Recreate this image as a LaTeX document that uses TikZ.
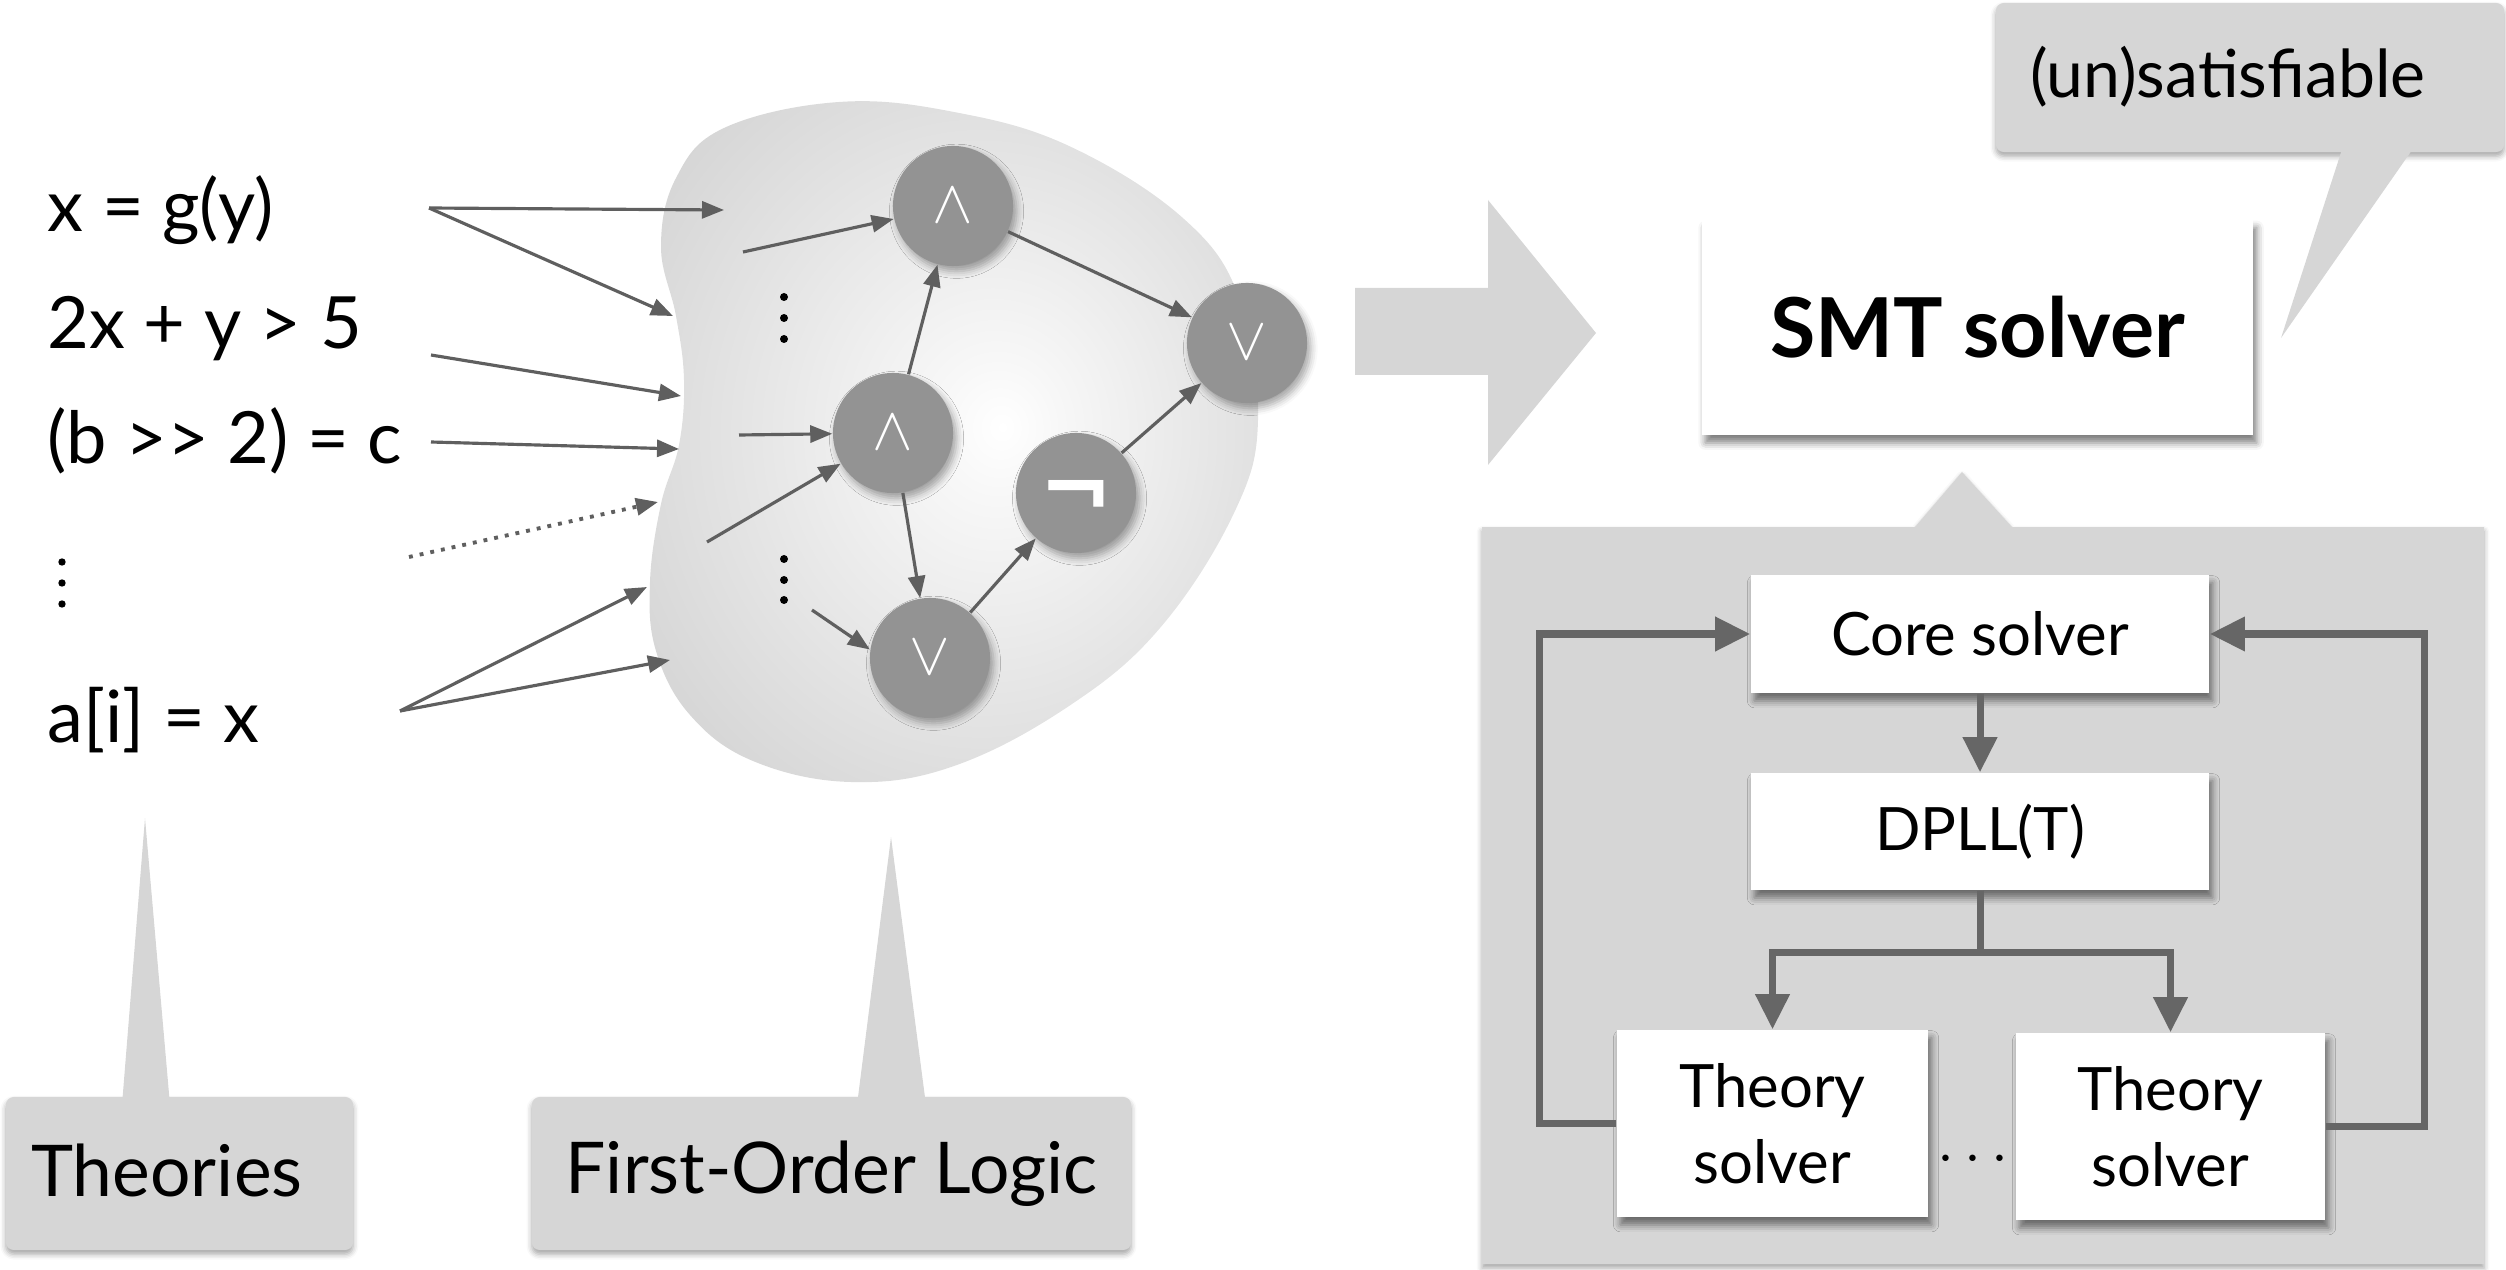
\documentclass[tikz,border=0pt]{standalone}
\usepackage{fontspec}
\setmainfont{Lato}[Ligatures=TeXOff]
\newfontfamily\djvfont{DejaVu Sans}
\usetikzlibrary{arrows.meta,shadows.blur}
\definecolor{calloutgray}{HTML}{D6D6D6}
\definecolor{blobgray}{HTML}{D0D0D0}
\definecolor{nodegray}{HTML}{939393}
\definecolor{arrowgray}{HTML}{5F5F5F}
\definecolor{loopgray}{HTML}{666666}
\pgfdeclareradialshading{blobshade}{\pgfpoint{4bp}{1bp}}{color(0bp)=(white); color(5bp)=(white!97!black); color(36bp)=(blobgray); color(50bp)=(blobgray)}
\tikzset{
  arr/.style={draw=arrowgray, line width=0.9pt, -{Triangle[length=0.22cm,width=0.17cm]}},
  looparr/.style={draw=loopgray, line width=2pt, -{Triangle[length=0.35cm,width=0.33cm]}},
  opnode/.style={circle, fill=nodegray, minimum size=1.2cm, inner sep=0pt, text=white,
    font=\fontsize{17}{17}\selectfont,
    blur shadow={shadow xshift=1pt, shadow yshift=-1.5pt, shadow blur radius=2pt, shadow opacity=35}},
  whitebox/.style={rectangle, fill=white, inner sep=0pt,
    blur shadow={shadow xshift=1pt, shadow yshift=-2.2pt, shadow blur radius=2pt, shadow opacity=50}},
  calloutbox/.style={rectangle, rounded corners=0.08cm, fill=calloutgray, inner sep=0pt,
    blur shadow={shadow xshift=0pt, shadow yshift=-1.2pt, shadow blur radius=1.5pt, shadow opacity=35}},
  formula/.style={anchor=base west, inner sep=0pt, font=\fontsize{20.5}{24}\selectfont},
  paneltxt/.style={font=\fontsize{17}{21.6}\selectfont, align=center},
  labeltxt/.style={font=\fontsize{20.3}{24}\selectfont}
}
\begin{document}
\begin{tikzpicture}[x=0.01cm,y=-0.01cm]
\useasboundingbox (0,0) rectangle (2506,1270);

% ---------- bottom-right panel ----------
\path[fill=calloutgray, blur shadow={shadow xshift=0pt, shadow yshift=-1.2pt, shadow blur radius=1.5pt, shadow opacity=35}]
  (1482,527) -- (1915,527) -- (1962,472) -- (2012,527) -- (2484,527) -- (2484,1264) -- (1482,1264) -- cycle;

% ---------- blob ----------
\shade[shading=blobshade] plot[smooth cycle, tension=0.65] coordinates {
  (839,102) (954,112) (1069,146) (1184,219) (1240,300) (1258,420) (1234,513)
  (1160,628) (1069,706) (954,766) (851,782) (753,761) (690,715) (656,651)
  (650,582) (661,504) (679,445) (684,380) (676,316) (661,247) (676,178) (724,128)};

% ---------- formulas ----------
\node[formula] (f1) at (47,232) {x = g(y)};
\node[formula] (f2) at (47,349) {2x + y > 5};
\node[formula] (f3) at (47,463) {(b >> 2) = c};
\node[formula] (f5) at (47,742) {a[i] = x};
\foreach \yy in {562,583,604} \fill (62,\yy) circle (0.037cm);

% ---------- free ends ----------
\coordinate (s1) at (429,208);
\coordinate (e1a) at (724,210);
\coordinate (e1b) at (673,316);
\coordinate (s2) at (431,355);
\coordinate (e2) at (681,396);
\coordinate (s3) at (431,442);
\coordinate (e3) at (679,449);
\coordinate (s4) at (409,557);
\coordinate (e4) at (658,502);
\coordinate (s5) at (400,711);
\coordinate (e5a) at (647,587);
\coordinate (e5b) at (670,660);
\coordinate (i1) at (743,252);
\coordinate (i2) at (739,435);
\coordinate (i3) at (707,542);
\coordinate (i4) at (812,610);

% ---------- operator nodes ----------
\node[opnode] (and1) at (953,206) {$\wedge$};
\node[opnode] (orR) at (1247,343) {$\vee$};
\node[opnode] (and2) at (893,433) {$\wedge$};
\node[opnode, font=\djvfont\bfseries\fontsize{25}{25}\selectfont] (neg) at (1076,493) {\smash{\raisebox{-0.3em}{¬}}};
\node[opnode] (or2) at (930,658) {$\vee$};

% dots inside blob
\foreach \yy in {297,318,339,559,580,600} \fill (784,\yy) circle (0.04cm);

% ---------- arrows left ----------
\draw[arr] (s1) -- (e1a);
\draw[arr] (s1) -- (e1b);
\draw[arr] (s2) -- (e2);
\draw[arr] (s3) -- (e3);
\draw[arr, line width=1.1pt, dash pattern=on 1.1pt off 2pt] (s4) -- (e4);
\draw[arr] (s5) -- (e5a);
\draw[arr] (s5) -- (e5b);
\draw[arr] (i1) -- (and1);
\draw[arr] (i2) -- (and2);
\draw[arr] (i3) -- (and2);
\draw[arr] (i4) -- (or2.172);
\draw[arr] (and2) -- (and1);
\draw[arr] (and1) -- (orR);
\draw[arr] (and2) -- (or2);
\draw[arr] (or2) -- (neg);
\draw[arr] (neg) -- (orR);

% ---------- big arrow ----------
\fill[calloutgray] (1355,288) -- (1488,288) -- (1488,200) -- (1596,333) -- (1488,465) -- (1488,375) -- (1355,375) -- cycle;

% ---------- SMT solver ----------
\node[whitebox, minimum width=5.51cm, minimum height=2.15cm, font=\bfseries\fontsize{23.5}{26}\selectfont] (smt) at (1977.5,327.5) {SMT solver};

% ---------- bubble ----------
\node[calloutbox, minimum width=5.08cm, minimum height=1.49cm] (bubble) at (2250,77.5) {};
\fill[calloutgray] (2345,140) -- (2281,338) -- (2419,140) -- cycle;
\node[font=\fontsize{18.8}{22}\selectfont, inner sep=0pt] (unsat) at (2228,77) {(un)satisfiable};

% ---------- panel contents ----------
\node[whitebox, minimum width=4.58cm, minimum height=1.18cm, paneltxt] (core) at (1980,634) {Core solver};
\node[whitebox, minimum width=4.58cm, minimum height=1.17cm, paneltxt] (dpll) at (1980,831.5) {DPLL(T)};
\node[whitebox, minimum width=3.11cm, minimum height=1.87cm, paneltxt] (th1) at (1772.5,1123.5) {Theory\\solver};
\node[whitebox, minimum width=3.09cm, minimum height=1.87cm, paneltxt] (th2) at (2170.5,1126.5) {Theory\\solver};
\node[paneltxt, inner sep=0pt] (tdots) at (1973,1160) {$\cdots$};

\draw[looparr] (core.south) -- (dpll.north);
\draw[looparr] (dpll.south) -- ++(0,62) -| (th1.north);
\draw[looparr] (dpll.south) -- ++(0,62) -| (th2.north);
\draw[looparr] (th1.west) -- ++(-77,0) |- (core.west);
\draw[looparr] (th2.east) -- ++(99,0) |- (core.east);

% ---------- bottom labels ----------
\node[calloutbox, minimum width=3.47cm, minimum height=1.53cm] (theories) at (179.5,1173.5) {};
\node[labeltxt, inner sep=0pt] (theoriestxt) at (167,1170) {Theories};
\fill[calloutgray] (122,1105) -- (145,818) -- (170,1105) -- cycle;
\node[calloutbox, minimum width=5.99cm, minimum height=1.53cm, labeltxt] (fol) at (831.5,1173.5) {First-Order Logic};
\fill[calloutgray] (857,1105) -- (891,837) -- (926,1105) -- cycle;
\end{tikzpicture}
\end{document}
